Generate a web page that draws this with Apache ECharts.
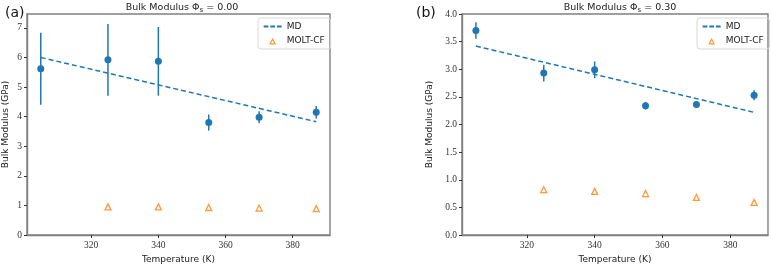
<!DOCTYPE html>
<html><head><meta charset="utf-8">
<script src="https://cdn.jsdelivr.net/npm/echarts@6/dist/echarts.min.js"></script>
<style>html,body{margin:0;padding:0;background:#fff}#c{width:771px;height:269px}</style>
</head><body><div id="c"></div>
<script>
const temps = [305, 325, 340, 355, 370, 387];
const mdA = [5.62, 5.92, 5.87, 3.80, 3.98, 4.15];
const errA = [1.22, 1.21, 1.16, 0.27, 0.20, 0.21];
const fitTemps = [305, 387];
const fitA = [6.00, 3.83];
const moltTemps = [325, 340, 355, 370, 387];
const moltA = [0.95, 0.95, 0.93, 0.91, 0.89];
const mdB = [3.70, 2.93, 2.99, 2.34, 2.36, 2.53];
const errB = [0.15, 0.15, 0.15, 0.07, 0.05, 0.09];
const fitB = [3.42, 2.22];
const moltB = [0.82, 0.79, 0.75, 0.68, 0.59];
const xTicks = [320, 340, 360, 380];
const yTicksA = [0, 1, 2, 3, 4, 5, 6, 7];
const yTicksB = [0, 0.5, 1.0, 1.5, 2.0, 2.5, 3.0, 3.5, 4.0];

const BLUE = '#1f77b4', ORANGE = '#ff7f0e', AX = '#808080';
const SERIF = 'Liberation Serif';
const chart = echarts.init(document.getElementById('c'), null, {renderer: 'canvas'});

function xAxis(gi) {
  return {
    type: 'value', gridIndex: gi, min: 300.9, max: 391.1,
    name: 'Temperature (K)', nameLocation: 'middle', nameGap: 20,
    nameTextStyle: {fontFamily: 'DejaVu Sans', fontSize: 9, color: '#222'},
    axisLine: {show: true, lineStyle: {color: AX, width: 1.4}},
    axisTick: {show: true, length: 3, customValues: xTicks, lineStyle: {color: '#333'}},
    axisLabel: {customValues: xTicks, fontFamily: SERIF, fontSize: 9.5, color: '#333', margin: 5},
    splitLine: {show: false}
  };
}
function yAxis(gi, max, ticks, dec, gap) {
  return {
    type: 'value', gridIndex: gi, min: 0, max: max,
    name: 'Bulk Modulus (GPa)', nameLocation: 'middle', nameGap: gap,
    nameTextStyle: {fontFamily: 'DejaVu Sans', fontSize: 9, color: '#222'},
    axisLine: {show: true, lineStyle: {color: AX, width: 1.4}},
    axisTick: {show: true, length: 3, customValues: ticks, lineStyle: {color: '#333'}},
    axisLabel: {customValues: ticks, fontFamily: SERIF, fontSize: 9.5, color: '#333', margin: 5,
      formatter: v => Number(v).toFixed(dec)},
    splitLine: {show: false}
  };
}
function errSeries(gi, vals, errs) {
  return {
    type: 'custom', xAxisIndex: gi, yAxisIndex: gi, silent: true, z: 3,
    data: temps.map((t, i) => [t, vals[i] - errs[i], vals[i] + errs[i]]),
    renderItem: (params, api) => {
      const lo = api.coord([api.value(0), api.value(1)]);
      const hi = api.coord([api.value(0), api.value(2)]);
      return {type: 'line', shape: {x1: lo[0], y1: lo[1], x2: hi[0], y2: hi[1]},
        style: {stroke: BLUE, lineWidth: 1.5}};
    }
  };
}
function pts(gi, vals) {
  return {type: 'scatter', xAxisIndex: gi, yAxisIndex: gi, symbol: 'circle', symbolSize: 7, z: 4,
    itemStyle: {color: BLUE, opacity: 1}, data: temps.map((t, i) => [t, vals[i]])};
}
function fit(gi, vals) {
  return {name: 'MD', type: 'line', xAxisIndex: gi, yAxisIndex: gi, symbol: 'none', z: 2,
    lineStyle: {color: BLUE, type: [5, 3], width: 1.5}, itemStyle: {color: BLUE},
    data: fitTemps.map((t, i) => [t, vals[i]])};
}
function molt(gi, vals) {
  return {name: 'MOLT-CF', type: 'scatter', xAxisIndex: gi, yAxisIndex: gi, symbol: 'triangle', symbolSize: 6, z: 4,
    itemStyle: {color: '#fff', borderColor: ORANGE, borderWidth: 1.3},
    data: moltTemps.map((t, i) => [t, vals[i]])};
}
function legend(left) {
  return {orient: 'vertical', left: left, top: 18, itemWidth: 18, itemHeight: 8, itemGap: 5,
    padding: [4, 6, 4, 5], borderColor: '#d8d8d8', borderWidth: 1, borderRadius: 3,
    textStyle: {fontFamily: 'DejaVu Sans', fontSize: 9, color: '#222'},
    data: [{name: 'MD', icon: 'path://M0,3 L5,3 L5,5 L0,5 Z M7,3 L12,3 L12,5 L7,5 Z M14,3 L19,3 L19,5 L14,5 Z M0,0 M19,8',
      itemStyle: {color: BLUE, borderWidth: 0}},
      {name: 'MOLT-CF', icon: 'path://M0,0 M19,8 M7,7.5 L9.5,2.5 L12,7.5 Z',
        itemStyle: {color: '#fff', borderColor: ORANGE, borderWidth: 1.3}}]};
}
const titleRich = {
  a: {fontFamily: 'DejaVu Sans', fontSize: 9.5, fontWeight: 'normal', color: '#222'},
  s: {fontFamily: 'DejaVu Sans', fontSize: 7, fontWeight: 'normal', color: '#222', padding: [5, 0, 0, 0]}
};
chart.setOption({
  animation: false,
  title: [
    {text: '{a|Bulk Modulus Φ}{s|s}{a| = 0.00}', left: 177, top: -3, textAlign: 'center', textStyle: {fontWeight: 'normal', rich: titleRich}},
    {text: '{a|Bulk Modulus Φ}{s|s}{a| = 0.30}', left: 615, top: -3, textAlign: 'center', textStyle: {fontWeight: 'normal', rich: titleRich}},
    {text: '(a)', left: 0, top: 1, textStyle: {fontFamily: 'DejaVu Sans', fontSize: 14, fontWeight: 'normal', color: '#111'}},
    {text: '(b)', left: 411, top: 1, textStyle: {fontFamily: 'DejaVu Sans', fontSize: 14, fontWeight: 'normal', color: '#111'}}
  ],
  grid: [
    {left: 24, top: 14, width: 306, height: 228, show: true, borderColor: AX, borderWidth: 1.4, backgroundColor: 'transparent'},
    {left: 462, top: 14, width: 306, height: 228, show: true, borderColor: AX, borderWidth: 1.4, backgroundColor: 'transparent'}
  ],
  legend: [legend(258), legend(697)],
  xAxis: [xAxis(0), xAxis(1)],
  yAxis: [yAxis(0, 7.47, yTicksA, 0, 17), yAxis(1, 4.0, yTicksB, 1, 28)],
  series: [
    fit(0, fitA), errSeries(0, mdA, errA), pts(0, mdA), molt(0, moltA),
    fit(1, fitB), errSeries(1, mdB, errB), pts(1, mdB), molt(1, moltB)
  ]
});
</script></body></html>
